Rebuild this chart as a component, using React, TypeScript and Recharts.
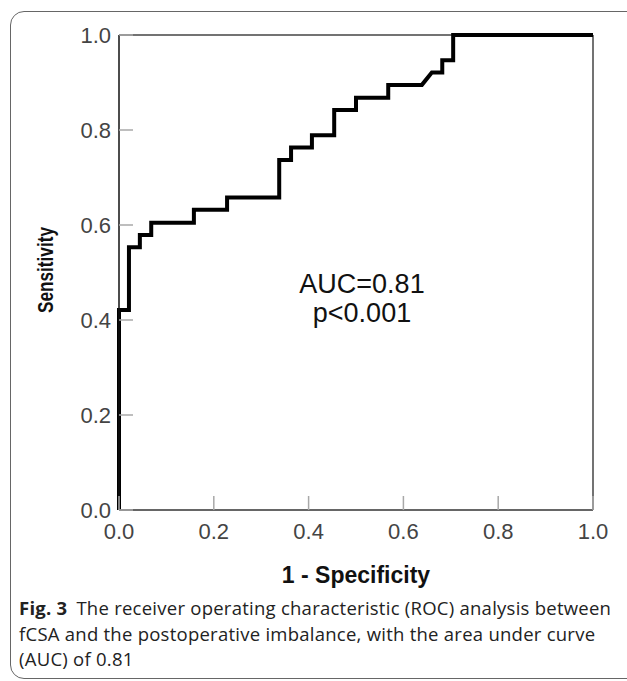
import React from 'react';
import { LineChart, Line, XAxis, YAxis, ReferenceLine } from 'recharts';

// ROC curve: x = 1 - specificity, y = sensitivity
const falsePositiveRate = [0, 0, 0.021, 0.021, 0.044, 0.044, 0.068, 0.068, 0.158, 0.158, 0.228, 0.228, 0.338, 0.338, 0.363, 0.363, 0.407, 0.407, 0.454, 0.454, 0.5, 0.5, 0.568, 0.568, 0.639, 0.66, 0.682, 0.682, 0.705, 0.705, 1];
const sensitivity = [0, 0.421, 0.421, 0.553, 0.553, 0.579, 0.579, 0.605, 0.605, 0.632, 0.632, 0.658, 0.658, 0.737, 0.737, 0.763, 0.763, 0.789, 0.789, 0.842, 0.842, 0.868, 0.868, 0.895, 0.895, 0.921, 0.921, 0.947, 0.947, 1, 1];
const axisTicks = [0, 0.2, 0.4, 0.6, 0.8, 1];
const tickLabels = ['0.0', '0.2', '0.4', '0.6', '0.8', '1.0'];

const rocData = falsePositiveRate.map((fpr, i) => ({ fpr, tpr: sensitivity[i] }));

const labelFor = (v: number) => tickLabels[axisTicks.indexOf(v)] ?? v.toFixed(1);

const tickFont = { fontFamily: '"Liberation Sans", Arial, sans-serif', fontSize: 22, fill: '#444' };

// tick marks point into the plot, like the SPSS output
const YTick = (props: any) => {
  const { x, y, payload } = props;
  return (
    <g>
      <text x={x - 8} y={y + 8} textAnchor="end" {...tickFont}>{labelFor(payload.value)}</text>
      <line x1={x} x2={x + 14} y1={y} y2={y} stroke="#a8a8a8" strokeWidth={1.5} />
    </g>
  );
};

const XTick = (props: any) => {
  const { x, y, payload } = props;
  return (
    <g>
      <text x={x} y={y + 29} textAnchor="middle" {...tickFont}>{labelFor(payload.value)}</text>
      <line x1={x} x2={x} y1={y} y2={y - 14} stroke="#a8a8a8" strokeWidth={1.5} />
    </g>
  );
};

export default function App() {
  return (
    <div style={{ position: 'absolute', left: 0, top: 0, width: 627, height: 681, background: '#fff', overflow: 'hidden' }}>
      {/* figure frame */}
      <div
        style={{
          position: 'absolute', left: 10, top: 11, width: 700, height: 668,
          border: '1.3px solid #666', borderRadius: 14, boxSizing: 'border-box',
        }}
      />
      <div style={{ position: 'absolute', left: 0, top: 0 }}>
        <LineChart width={627} height={560} data={rocData} margin={{ top: 35, right: 34, bottom: 0, left: 0 }}>
          <XAxis
            type="number"
            dataKey="fpr"
            domain={[0, 1]}
            ticks={axisTicks}
            interval={0}
            height={50}
            tickSize={0}
            tickMargin={0}
            tickLine={false}
            axisLine={{ stroke: '#333', strokeWidth: 1.5 }}
            tick={<XTick />}
          />
          <YAxis
            type="number"
            domain={[0, 1]}
            ticks={axisTicks}
            interval={0}
            width={119}
            tickSize={0}
            tickMargin={0}
            tickLine={false}
            axisLine={{ stroke: '#111', strokeWidth: 1.5 }}
            tick={<YTick />}
          />
          <ReferenceLine y={1} stroke="#444" strokeWidth={1.5} />
          <ReferenceLine x={1} stroke="#444" strokeWidth={1.5} />
          <Line
            type="linear"
            dataKey="tpr"
            stroke="#000"
            strokeWidth={4}
            dot={false}
            activeDot={false}
            isAnimationActive={false}
          />
        </LineChart>
      </div>
      <svg width={627} height={681} style={{ position: 'absolute', left: 0, top: 0, pointerEvents: 'none' }}>
        <text
          transform="translate(52.5,270) rotate(-90)"
          textAnchor="middle"
          fontFamily='"Liberation Sans", Arial, sans-serif'
          fontWeight="bold"
          fontSize={22}
          textLength={86}
          lengthAdjust="spacingAndGlyphs"
          fill="#111"
        >
          Sensitivity
        </text>
        <text x={356} y={583} textAnchor="middle" fontFamily='"Liberation Sans", Arial, sans-serif' fontWeight="bold" fontSize={23} fill="#111">
          1 - Specificity
        </text>
        <text x={362} y={293} textAnchor="middle" fontFamily='"Liberation Sans", Arial, sans-serif' fontSize={27} fill="#111">
          AUC=0.81
        </text>
        <text x={362} y={322} textAnchor="middle" fontFamily='"Liberation Sans", Arial, sans-serif' fontSize={27} fill="#111">
          p&lt;0.001
        </text>
        <g fontFamily='"Open Sans", "Noto Sans", sans-serif' fontSize={18.5} letterSpacing={0.25} fill="#222">
          <text x={19} y={615}>
            <tspan fontWeight="bold">Fig. 3</tspan>
            <tspan dx={9}>The receiver operating characteristic (ROC) analysis between</tspan>
          </text>
          <text x={19} y={640.5}>fCSA and the postoperative imbalance, with the area under curve</text>
          <text x={19} y={666}>(AUC) of 0.81</text>
        </g>
      </svg>
    </div>
  );
}
